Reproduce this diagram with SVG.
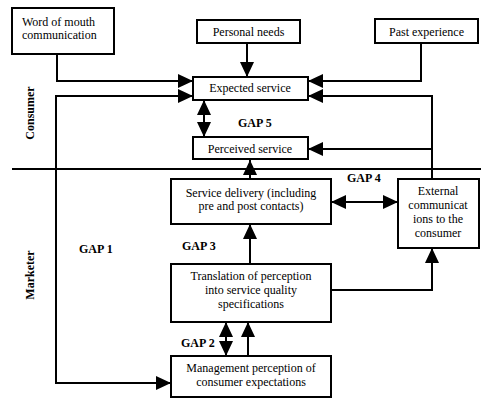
<svg xmlns="http://www.w3.org/2000/svg" width="481" height="398" viewBox="0 0 481 398">
<style>
.box{fill:#fff;stroke:#000;stroke-width:2}
text{font-family:"Liberation Serif","Times New Roman",serif;font-size:12px;fill:#000}
.c{text-anchor:middle}
.b{font-weight:bold}
.ln{fill:none;stroke:#000;stroke-width:2}
</style>
<defs>
<marker id="ah" viewBox="0 0 15 14" refX="15" refY="7" markerWidth="15" markerHeight="14" markerUnits="userSpaceOnUse" orient="auto-start-reverse">
<path d="M0,0 L15,7 L0,14 z" fill="#000"/>
</marker>
</defs>
<rect width="481" height="398" fill="#fff"/>
<g id="connectors">
<line class="ln" x1="12" y1="169" x2="481" y2="169"/>
<polyline class="ln" points="57,54 57,81 193,81" marker-end="url(#ah)"/>
<polyline class="ln" points="171,383 56,383 56,96 193,96" marker-start="url(#ah)" marker-end="url(#ah)"/>
<line class="ln" x1="247" y1="43" x2="247" y2="77" marker-end="url(#ah)"/>
<polyline class="ln" points="421,43 421,81 308,81" marker-end="url(#ah)"/>
<polyline class="ln" points="432,179 432,96 308,96" marker-end="url(#ah)"/>
<line class="ln" x1="432" y1="149" x2="308" y2="149" marker-end="url(#ah)"/>
<line class="ln" x1="204" y1="100" x2="204" y2="137" marker-start="url(#ah)" marker-end="url(#ah)"/>
<line class="ln" x1="250" y1="179" x2="250" y2="160" marker-end="url(#ah)"/>
<line class="ln" x1="331" y1="202" x2="398" y2="202" marker-start="url(#ah)" marker-end="url(#ah)"/>
<line class="ln" x1="250" y1="264" x2="250" y2="224" marker-end="url(#ah)"/>
<polyline class="ln" points="331,290 432,290 432,248" marker-end="url(#ah)"/>
<line class="ln" x1="226" y1="322" x2="226" y2="356" marker-start="url(#ah)" marker-end="url(#ah)"/>
<line class="ln" x1="248" y1="356" x2="248" y2="322" marker-end="url(#ah)"/>
</g>
<g id="word-of-mouth">
<rect class="box" x="12" y="8" width="102" height="46"/>
<text x="22" y="26">Word of mouth</text>
<text x="22" y="39">communication</text>
</g>
<g id="personal-needs">
<rect class="box" x="197" y="20" width="103" height="23"/>
<text class="c" x="248.5" y="36">Personal needs</text>
</g>
<g id="past-experience">
<rect class="box" x="375" y="19" width="103" height="24"/>
<text class="c" x="426.5" y="36">Past experience</text>
</g>
<g id="expected-service">
<rect class="box" x="193" y="77" width="115" height="23"/>
<text class="c" x="250" y="92">Expected service</text>
</g>
<g id="perceived-service">
<rect class="box" x="193" y="137" width="115" height="22"/>
<text class="c" x="250" y="153">Perceived service</text>
</g>
<g id="service-delivery">
<rect class="box" x="171" y="179" width="160" height="45"/>
<text class="c" x="251" y="197">Service delivery (including</text>
<text class="c" x="251" y="210">pre and post contacts)</text>
</g>
<g id="external-communications">
<rect class="box" x="398" y="179" width="81" height="69"/>
<text class="c" x="438" y="195">External</text>
<text class="c" x="438" y="209">communicat</text>
<text class="c" x="438" y="223">ions to the</text>
<text class="c" x="438" y="237">consumer</text>
</g>
<g id="translation">
<rect class="box" x="171" y="264" width="160" height="58"/>
<text class="c" x="251" y="280">Translation of perception</text>
<text class="c" x="251" y="294">into service quality</text>
<text class="c" x="251" y="308">specifications</text>
</g>
<g id="management">
<rect class="box" x="171" y="356" width="160" height="41"/>
<text class="c" x="251" y="372">Management perception of</text>
<text class="c" x="251" y="386">consumer expectations</text>
</g>
<g id="labels">
<text class="b c" transform="translate(34,113) rotate(-90)">Consumer</text>
<text class="b c" transform="translate(34,275) rotate(-90)">Marketer</text>
<text class="b" x="238" y="127">GAP 5</text>
<text class="b" x="347" y="182">GAP 4</text>
<text class="b" x="79" y="253">GAP 1</text>
<text class="b" x="182" y="250">GAP 3</text>
<text class="b" x="181" y="347">GAP 2</text>
</g>
</svg>
